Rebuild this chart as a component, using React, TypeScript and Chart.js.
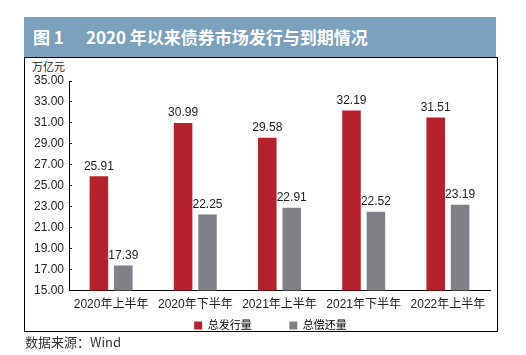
import React, { useEffect, useRef } from "react";
import { Chart, registerables } from "chart.js";

Chart.register(...registerables);

const categories = ["2020年上半年", "2020年下半年", "2021年上半年", "2021年下半年", "2022年上半年"];
const issuance = [25.91, 30.99, 29.58, 32.19, 31.51];
const repayment = [17.39, 22.25, 22.91, 22.52, 23.19];
const seriesNames = ["总发行量", "总偿还量"];
const yMin = 15;
const yMax = 35;
const yStep = 2;

const FONT = "'Liberation Sans', Arial, 'Noto Sans CJK SC', sans-serif";

const valueLabels = {
  id: "valueLabels",
  afterDatasetsDraw(chart: any) {
    const ctx = chart.ctx;
    ctx.save();
    ctx.font = `12px ${FONT}`;
    ctx.fillStyle = "#222";
    ctx.textAlign = "center";
    ctx.textBaseline = "bottom";
    chart.data.datasets.forEach((ds: any, i: number) => {
      const meta = chart.getDatasetMeta(i);
      meta.data.forEach((bar: any, j: number) => {
        ctx.fillText(ds.data[j].toFixed(2), bar.x, bar.y - 4);
      });
    });
    ctx.restore();
  },
};

const legendShift = {
  id: "legendShift",
  afterLayout(chart: any) {
    if (chart.legend) {
      chart.legend.left += 13;
      chart.legend.right += 13;
    }
  },
};

export default function App() {
  const ref = useRef<HTMLCanvasElement>(null);
  useEffect(() => {
    const chart = new Chart(ref.current!, {
      type: "bar",
      data: {
        labels: categories,
        datasets: [
          { label: seriesNames[0], data: issuance, backgroundColor: "#b5222d", categoryPercentage: 0.58, barPercentage: 0.76 },
          { label: seriesNames[1], data: repayment, backgroundColor: "#808087", categoryPercentage: 0.58, barPercentage: 0.76 },
        ],
      },
      options: {
        animation: false,
        responsive: false,
        devicePixelRatio: 1,
        layout: { padding: { top: 23, right: 27, left: 0, bottom: 0 } },
        plugins: {
          tooltip: { enabled: false },
          legend: {
            position: "bottom",
            labels: {
              boxWidth: 8,
              boxHeight: 8,
              padding: 1,
              color: "#222",
              font: { size: 11, family: FONT },
              generateLabels: (chart: any) =>
                chart.data.datasets.map((ds: any, i: number) => ({
                  text: ds.label + (i === 0 ? "            " : ""),
                  fillStyle: ds.backgroundColor,
                  strokeStyle: ds.backgroundColor,
                  lineWidth: 0,
                  datasetIndex: i,
                })),
            },
          },
        },
        scales: {
          x: {
            grid: { display: false, drawTicks: false },
            border: { display: true, color: "#000", width: 1 },
            ticks: { color: "#222", font: { size: 12, family: FONT }, padding: 7 },
          },
          y: {
            min: yMin,
            max: yMax,
            afterFit: (s: any) => { s.width = 44; },
            grid: { drawOnChartArea: false, drawTicks: true, tickLength: -3, color: "#000" },
            border: { display: true, color: "#000", width: 1 },
            ticks: {
              stepSize: yStep,
              color: "#222",
              padding: 8,
              font: { size: 12, family: FONT },
              callback: (v: any) => Number(v).toFixed(2),
            },
          },
        },
      },
      plugins: [valueLabels, legendShift],
    });
    return () => chart.destroy();
  }, []);

  return (
    <div style={{ position: "absolute", left: 0, top: 0, width: 526, height: 355, background: "#fff", fontFamily: FONT, overflow: "hidden" }}>
      <div
        style={{
          position: "absolute", left: 24, top: 17, width: 472, height: 40, background: "#7ba1bc",
          color: "#fff", fontFamily: "'Noto Sans CJK SC', sans-serif", fontWeight: 700, fontSize: 17,
          lineHeight: "40px", paddingLeft: 9, boxSizing: "border-box", whiteSpace: "pre",
        }}
      >
        <span>图 1</span>
        <span style={{ marginLeft: 22 }}>2020 年以来债券市场发行与到期情况</span>
      </div>
      <div style={{ position: "absolute", left: 24, top: 57, width: 474, height: 275, border: "1px solid #000", boxSizing: "border-box" }} />
      <div style={{ position: "absolute", left: 32, top: 60, fontSize: 11, color: "#222", fontFamily: "'Noto Sans CJK SC', sans-serif", lineHeight: "13px" }}>万亿元</div>
      <canvas ref={ref} width={492} height={283} style={{ position: "absolute", left: 25, top: 58 }} />
      <div style={{ position: "absolute", left: 25, top: 333, fontSize: 13, color: "#333", fontFamily: "'Noto Sans CJK SC', sans-serif", lineHeight: "18px" }}>数据来源：Wind</div>
    </div>
  );
}
